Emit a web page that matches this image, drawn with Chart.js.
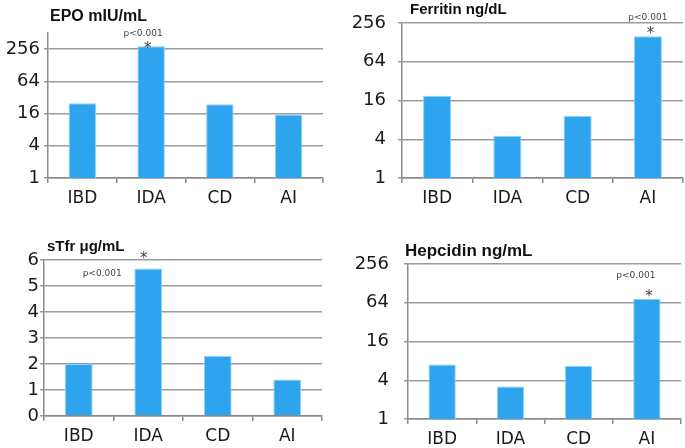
<!DOCTYPE html>
<html>
<head>
<meta charset="utf-8">
<script src="https://cdn.jsdelivr.net/npm/chart.js@4"></script>
<style>
  html, body { margin: 0; padding: 0; background: #fff; }
  body { width: 685px; height: 448px; position: relative; overflow: hidden; }
  .panel { position: absolute; }
</style>
</head>
<body>
<div class="panel" id="p1" style="left:0;top:0;width:330px;height:215px"><canvas id="c1"></canvas></div>
<div class="panel" id="p2" style="left:340px;top:0;width:345px;height:215px"><canvas id="c2"></canvas></div>
<div class="panel" id="p3" style="left:0;top:220px;width:330px;height:228px"><canvas id="c3"></canvas></div>
<div class="panel" id="p4" style="left:340px;top:220px;width:345px;height:228px"><canvas id="c4"></canvas></div>
<script>
'use strict';

const groups = ['IBD', 'IDA', 'CD', 'AI'];

const epoValues = [25, 290, 24, 15.3];
const ferritinValues = [18.8, 4.5, 9.2, 159];
const stfrValues = [2.0, 5.67, 2.31, 1.4];
const hepcidinValues = [7.0, 3.2, 6.7, 74];

const logTicks = [1, 4, 16, 64, 256];
const linTicks = [0, 1, 2, 3, 4, 5, 6];

const BAR = '#2fa4ee';
const BAR_EDGE = '#8fd0f7';
const GRID = '#9c9c9c';
const AXIS = '#8a8a8a';
const TICK_FONT = 'DejaVu Sans';

// title + p-value / asterisk marker
const notes = {
  id: 'notes',
  afterDatasetsDraw(chart, args, opts) {
    const { ctx, chartArea } = chart;
    ctx.save();
    ctx.fillStyle = '#111';
    ctx.font = 'bold ' + opts.titleSize + 'px "Liberation Sans", Arial, sans-serif';
    ctx.textAlign = 'left';
    ctx.textBaseline = 'middle';
    ctx.fillText(opts.title, chartArea.left + opts.titleDx, opts.titleY);

    const bar = chart.getDatasetMeta(0).data[opts.index];
    ctx.fillStyle = '#444';
    ctx.textAlign = 'center';
    ctx.font = '9px "DejaVu Sans", sans-serif';
    ctx.fillText('p<0.001', bar.x + opts.p[0], bar.y + opts.p[1]);
    ctx.font = '15px "DejaVu Sans", sans-serif';
    ctx.textBaseline = 'alphabetic';
    ctx.fillText('*', bar.x + opts.star[0], bar.y + opts.star[1] + 9);
    ctx.restore();
  }
};

function makeChart(id, values, o) {
  const yScale = {
    type: o.log ? 'logarithmic' : 'linear',
    min: o.log ? 1 : 0,
    max: o.max,
    afterBuildTicks: (s) => { s.ticks = o.ticks.map(v => ({ value: v })); },
    afterFit: (s) => { s.width = o.yWidth; },
    ticks: {
      color: '#1a1a1a',
      font: { family: TICK_FONT, size: 18 },
      padding: o.yPad,
      callback: (v) => String(v),
    },
    grid: { color: GRID, lineWidth: 1.5, drawTicks: true, tickLength: 4 },
    border: { color: AXIS, width: 1.5 },
  };
  return new Chart(document.getElementById(id), {
    type: 'bar',
    data: {
      labels: groups,
      datasets: [{
        data: values,
        backgroundColor: BAR,
        borderColor: BAR_EDGE,
        borderWidth: 1,
        barPercentage: 0.4,
        categoryPercentage: 1,
      }],
    },
    options: {
      responsive: true,
      maintainAspectRatio: false,
      animation: false,
      layout: { padding: { top: o.top, right: o.right, left: 0, bottom: 0 } },
      scales: {
        x: {
          afterFit: (s) => { s.height = o.xHeight; },
          ticks: { color: '#1a1a1a', font: { family: TICK_FONT, size: 17 }, padding: 5 },
          grid: { offset: true, drawOnChartArea: false, color: AXIS, tickLength: 5, lineWidth: 1.5 },
          border: { color: AXIS, width: 1.5 },
        },
        y: yScale,
      },
      plugins: {
        legend: { display: false },
        tooltip: { enabled: false },
        notes: o.notes,
      },
    },
    plugins: [notes],
  });
}

makeChart('c1', epoValues, {
  log: true, max: 512, ticks: logTicks,
  top: 33, right: 7, yWidth: 48, yPad: 4, xHeight: 37,
  notes: { title: 'EPO mIU/mL', titleSize: 16, titleDx: 2, titleY: 17, index: 1, p: [-8, -13], star: [-3.5, -2] },
});

makeChart('c2', ferritinValues, {
  log: true, max: 256, ticks: logTicks,
  top: 23, right: 2, yWidth: 62, yPad: 12, xHeight: 37,
  notes: { title: 'Ferritin ng/dL', titleSize: 15, titleDx: 8, titleY: 10, index: 3, p: [0, -19], star: [2.5, -7] },
});

makeChart('c3', stfrValues, {
  log: false, max: 6, ticks: linTicks,
  top: 40, right: 8, yWidth: 44, yPad: 1, xHeight: 32,
  notes: { title: 'sTfr μg/mL', titleSize: 15, titleDx: 3, titleY: 27, index: 1, p: [-46, 5], star: [-4.5, -15] },
});

makeChart('c4', hepcidinValues, {
  log: true, max: 256, ticks: logTicks,
  top: 44, right: 4, yWidth: 68, yPad: 15, xHeight: 29,
  notes: { title: 'Hepcidin ng/mL', titleSize: 17, titleDx: -3, titleY: 31, index: 3, p: [-11, -23], star: [2, -7] },
});
</script>
</body>
</html>
